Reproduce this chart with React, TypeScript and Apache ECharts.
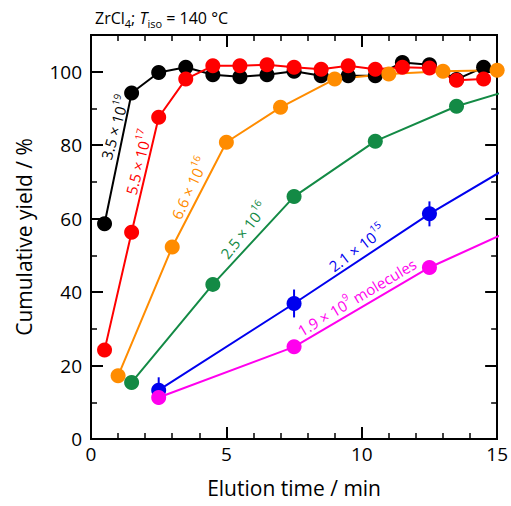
import React, { useEffect, useRef } from "react";
import * as echarts from "echarts";

const FONT = "'Open Sans', 'Noto Sans', sans-serif";

// Data (elution time in min, cumulative yield in %)
const blackX = [0.5, 1.5, 2.5, 3.5, 4.5, 5.5, 6.5, 7.5, 8.5, 9.5, 10.5, 11.5, 12.5, 13.5, 14.5];
const blackY = [58.6, 94.2, 99.8, 101.2, 99.2, 98.6, 99.2, 100.1, 98.9, 98.9, 98.9, 102.5, 101.9, 97.9, 101.2];
const redX = [0.5, 1.5, 2.5, 3.5, 4.5, 5.5, 6.5, 7.5, 8.5, 9.5, 10.5, 11.5, 12.5, 13.5, 14.5];
const redY = [24.2, 56.3, 87.6, 98.0, 101.6, 101.6, 101.9, 101.2, 100.7, 101.6, 100.7, 101.2, 101.0, 97.7, 98.0];
const orangeX = [1, 3, 5, 7, 9, 11, 13, 15];
const orangeY = [17.2, 52.3, 80.8, 90.3, 98.0, 99.4, 100.1, 100.4];
const greenX = [1.5, 4.5, 7.5, 10.5, 13.5, 16.5];
const greenY = [15.4, 42.1, 66.0, 81.1, 90.6, 97.2];
const blueX = [2.5, 7.5, 12.5, 17.5];
const blueY = [13.3, 36.9, 61.3, 83.1];
const blueErr = [3.5, 3.8, 3.4, 3.4];
const magentaX = [2.5, 7.5, 12.5, 17.5];
const magentaY = [11.3, 25.1, 46.7, 63.5];
const magentaErr = [2.0, 1.8, 1.6, 1.6];

const xTicks = [0, 5, 10, 15];
const yTicks = [0, 20, 40, 60, 80, 100];

const COLORS = {
  black: "#000000",
  red: "#ff0000",
  orange: "#ff8c00",
  green: "#138a45",
  blue: "#0000ee",
  magenta: "#ff00ee",
};

// Annotation labels
const labelTexts = ["3.5 × 10", "5.5 × 10", "6.6 × 10", "2.5 × 10", "2.1 × 10", "1.9 × 10"];
const labelSups = ["19", "17", "16", "16", "15", "9"];
const labelSuffix = ["", "", "", "", "", " molecules"];
const labelColors = [COLORS.black, COLORS.red, COLORS.orange, COLORS.green, COLORS.blue, COLORS.magenta];
const labelX = [0.81, 1.69, 3.57, 5.59, 9.78, 9.78];
const labelY = [85.0, 75.5, 68.5, 57.1, 52.4, 39.1];
const labelAngle = [74, 76, 65, 52, 37, 31];

function zip(xs: number[], ys: number[]) {
  return xs.map((x, i) => [x, ys[i]]);
}

function lineSeries(name: string, xs: number[], ys: number[], color: string) {
  return {
    name,
    type: "line",
    data: zip(xs, ys),
    symbol: "circle",
    symbolSize: 15,
    clip: true,
    lineStyle: { color, width: 2 },
    itemStyle: { color },
    z: 3,
  };
}

function errSeries(xs: number[], ys: number[], es: number[], color: string) {
  return {
    type: "custom",
    clip: true,
    data: xs.map((x, i) => [x, ys[i] - es[i], ys[i] + es[i]]),
    renderItem: (params: any, api: any) => {
      const p1 = api.coord([api.value(0), api.value(1)]);
      const p2 = api.coord([api.value(0), api.value(2)]);
      return {
        type: "line",
        shape: { x1: p1[0], y1: p1[1], x2: p2[0], y2: p2[1] },
        style: { stroke: color, lineWidth: 2 },
      };
    },
    z: 2,
  };
}

const axisLineStyle = { show: true, onZero: false, lineStyle: { color: "#000", width: 2 } };

export default function App() {
  const ref = useRef<HTMLDivElement>(null);
  useEffect(() => {
    document.body.style.margin = "0";
    if (!ref.current) return;
    const chart = echarts.init(ref.current, null, { renderer: "svg" });
    const xBase = {
      type: "value",
      min: xTicks[0],
      max: xTicks[xTicks.length - 1],
      interval: 5,
      axisLine: axisLineStyle,
      axisTick: { show: true, inside: true, length: 12, lineStyle: { color: "#000", width: 2 } },
      minorTick: { show: true, splitNumber: 5, length: 6, lineStyle: { color: "#000", width: 1.5 } },
      splitLine: { show: false },
      minorSplitLine: { show: false },
    };
    const yBase = {
      type: "value",
      min: 0,
      max: 110,
      axisLine: axisLineStyle,
      splitLine: { show: false },
    };
    chart.setOption({
      animation: false,
      grid: { left: 91, right: 12, top: 35, bottom: 67, containLabel: false },
      xAxis: [
        {
          ...xBase,
          position: "bottom",
          axisLabel: { show: true, fontSize: 19, color: "#000", fontFamily: FONT, margin: 5 },
          name: "Elution time / min",
          nameLocation: "middle",
          nameGap: 38,
          nameTextStyle: { fontSize: 21, color: "#000", fontFamily: FONT },
        },
        { ...xBase, position: "top", axisLabel: { show: false } },
      ],
      yAxis: [
        {
          ...yBase,
          position: "left",
          interval: 20,
          axisTick: { show: true, inside: true, length: 12, lineStyle: { color: "#000", width: 2 } },
          axisLabel: {
            show: true,
            fontSize: 19,
            color: "#000",
            fontFamily: FONT,
            margin: 9,
            formatter: (v: number) => (yTicks.indexOf(v) >= 0 ? String(v) : ""),
          },
          name: "Cumulative yield / %",
          nameLocation: "middle",
          nameGap: 57,
          nameTextStyle: { fontSize: 21, color: "#000", fontFamily: FONT },
        },
        {
          ...yBase,
          position: "left",
          interval: 10,
          axisTick: { show: true, inside: true, length: 6, lineStyle: { color: "#000", width: 1.5 } },
          axisLabel: { show: false },
        },
        {
          ...yBase,
          position: "right",
          interval: 20,
          axisTick: { show: true, inside: true, length: 12, lineStyle: { color: "#000", width: 2 } },
          axisLabel: { show: false },
        },
        {
          ...yBase,
          position: "right",
          interval: 10,
          axisTick: { show: true, inside: true, length: 6, lineStyle: { color: "#000", width: 1.5 } },
          axisLabel: { show: false },
        },
      ],
      series: [
        lineSeries("3.5e19", blackX, blackY, COLORS.black),
        lineSeries("5.5e17", redX, redY, COLORS.red),
        lineSeries("6.6e16", orangeX, orangeY, COLORS.orange),
        lineSeries("2.5e16", greenX, greenY, COLORS.green),
        errSeries(blueX, blueY, blueErr, COLORS.blue),
        lineSeries("2.1e15", blueX, blueY, COLORS.blue),
        errSeries(magentaX, magentaY, magentaErr, COLORS.magenta),
        lineSeries("1.9e9", magentaX, magentaY, COLORS.magenta),
      ],
    });

    const graphics: any[] = labelTexts.map((t, i) => {
      const p = chart.convertToPixel({ xAxisIndex: 0, yAxisIndex: 0 }, [labelX[i], labelY[i]]) as number[];
      const c = labelColors[i];
      return {
        type: "text",
        x: p[0],
        y: p[1],
        rotation: (labelAngle[i] * Math.PI) / 180,
        z: 10,
        style: {
          text: `{n|${t}}{s|${labelSups[i]}}` + (labelSuffix[i] ? `{n|${labelSuffix[i]}}` : ""),
          align: "center",
          verticalAlign: "middle",
          fill: c,
          rich: {
            n: { fontSize: 15, fontFamily: FONT, fill: c, lineHeight: 19, verticalAlign: "bottom" },
            s: { fontSize: 10, fontFamily: FONT, fill: c, lineHeight: 11, verticalAlign: "top" },
          },
        },
      };
    });
    graphics.push({
      type: "text",
      left: 95,
      top: 10,
      z: 10,
      style: {
        text: "{n|ZrCl}{b|4}{n|; }{i|T}{b|iso}{n| = 140 °C}",
        fill: "#000",
        rich: {
          n: { fontSize: 16, fontFamily: FONT, fill: "#000", lineHeight: 22 },
          i: { fontSize: 16, fontFamily: FONT, fontStyle: "italic", fill: "#000", lineHeight: 22 },
          b: { fontSize: 11, fontFamily: FONT, fill: "#000", lineHeight: 11, verticalAlign: "bottom" },
        },
      },
    });
    chart.setOption({ graphic: graphics });
    return () => chart.dispose();
  }, []);
  return <div ref={ref} style={{ width: 511, height: 506 }} />;
}
